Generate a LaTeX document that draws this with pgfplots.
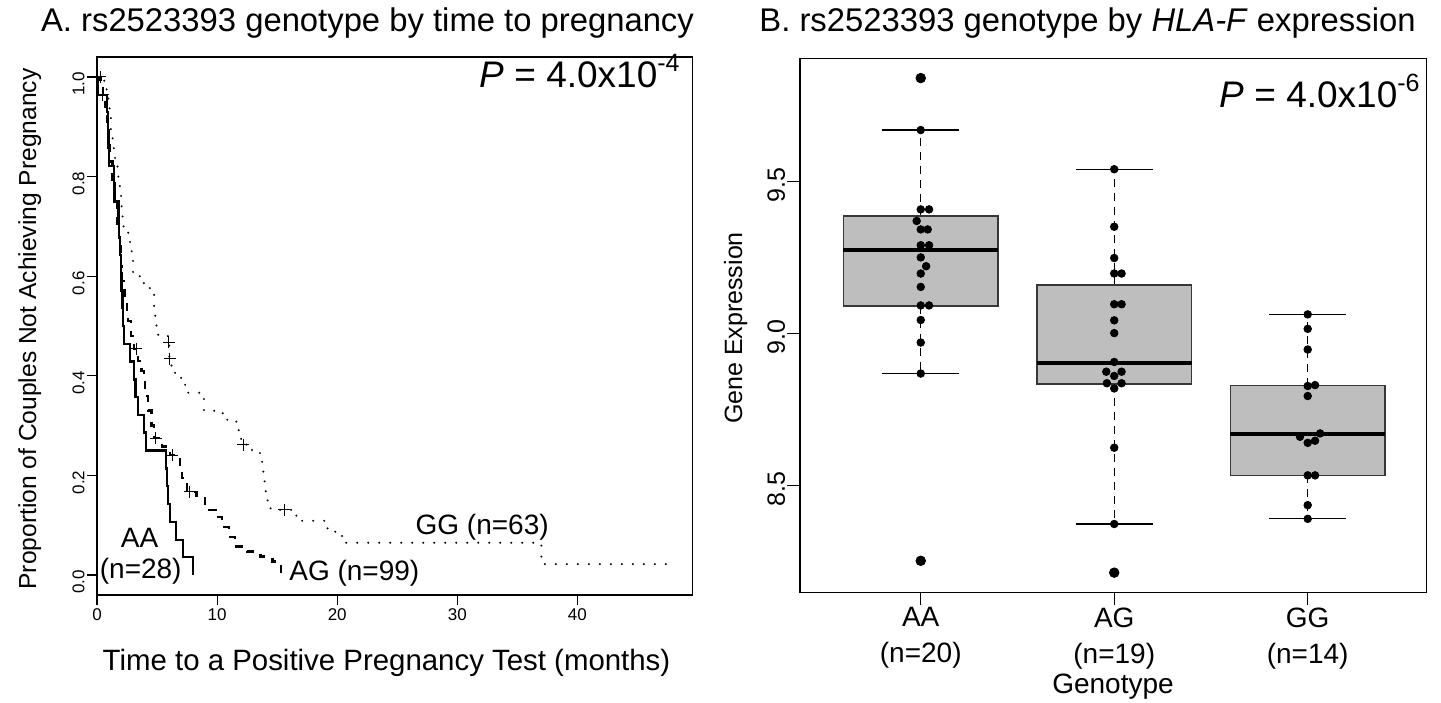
\documentclass[border=0pt]{standalone}
\usepackage{fontspec}
\setmainfont{Liberation Sans}
\usepackage{pgfplots}
\pgfplotsset{compat=1.18}
\definecolor{boxgray}{RGB}{190,190,190}
\definecolor{boxedge}{RGB}{55,55,55}
\newcommand{\fs}[1]{\fontsize{#1}{#1}\selectfont}
\begin{document}
\begin{tikzpicture}
% ---------------- Panel A ----------------
\begin{axis}[
  at={(48.5pt,-28.5pt)}, anchor=north west,
  scale only axis, width=297.85pt, height=269pt,
  xmin=0, xmax=49.6, ymin=-0.04, ymax=1.04,
  axis line style={line width=0.6pt},
  xtick={0,10,20,30,40}, xticklabels={0,10,20,30,40},
  ytick={0,0.2,0.4,0.6,0.8,1.0}, yticklabels={0.0,0.2,0.4,0.6,0.8,1.0},
  tick align=outside, major tick length=5pt,
  xtick pos=left, ytick pos=left,
  tick style={black, line width=0.6pt},
  yticklabel style={rotate=90, anchor=south, font=\fs{8.5}, inner sep=1pt, xshift=-3.5pt},
  xticklabel style={font=\fs{8.5}, inner sep=1.5pt},
]
% AA solid
\addplot[const plot, black, line width=1.2pt] coordinates {
(0,1) (0.05,0.964) (0.85,0.929) (0.9,0.893) (0.95,0.857) (1.0,0.821)
(1.42,0.786) (1.45,0.750) (1.78,0.714) (1.85,0.679) (1.92,0.643) (1.98,0.607)
(2.05,0.571) (2.12,0.536) (2.18,0.500) (2.25,0.464) (2.73,0.429) (3.08,0.393)
(3.2,0.357) (3.42,0.321) (3.92,0.286) (4.06,0.250) (5.73,0.214) (5.85,0.179)
(5.9,0.143) (6.06,0.107) (6.56,0.071) (7.17,0.036) (8.0,0.0)
};
% AG dashed
\addplot[const plot, black, line width=1.2pt, dash pattern=on 4pt off 4pt] coordinates {
(0,1) (0.3,0.98) (0.5,0.96) (0.7,0.94) (0.85,0.91) (1.0,0.87) (1.1,0.83)
(1.3,0.78) (1.5,0.75) (1.7,0.70) (1.85,0.66) (2.0,0.62) (2.1,0.59) (2.35,0.56)
(2.5,0.53) (2.6,0.51) (2.85,0.48) (3.1,0.454) (3.4,0.43) (3.7,0.41) (3.9,0.39)
(4.0,0.36) (4.25,0.33) (4.55,0.30) (4.75,0.275) (5.4,0.258) (6.1,0.241)
(6.9,0.222) (7.1,0.195) (7.5,0.167) (8.3,0.155) (9.0,0.131) (9.9,0.117)
(10.4,0.097) (11.0,0.077) (11.5,0.057) (12.5,0.047) (13.6,0.037) (14.6,0.027)
(15.3,0.0)
};
% GG dotted
\addplot[const plot, black, line width=1.1pt, line cap=round, dash pattern=on 0pt off 5.5pt] coordinates {
(0,1) (0.6,0.984) (0.8,0.968) (0.95,0.952) (1.05,0.921) (1.15,0.889) (1.3,0.857)
(1.5,0.825) (1.7,0.80) (1.9,0.78) (2.0,0.75) (2.05,0.72) (2.2,0.70) (2.4,0.69)
(2.6,0.67) (2.75,0.65) (2.9,0.635) (3.0,0.60) (3.9,0.58) (4.4,0.563) (4.75,0.54)
(4.85,0.517) (4.95,0.50) (5.1,0.482) (5.9,0.467) (6.02,0.434) (6.2,0.416)
(6.5,0.40) (7.0,0.382) (7.6,0.366) (8.9,0.33) (9.8,0.325) (10.8,0.312)
(11.6,0.296) (11.8,0.279) (12.0,0.262) (12.9,0.245) (13.6,0.228) (13.75,0.21)
(13.85,0.19) (13.95,0.17) (14.05,0.155) (14.2,0.141) (14.45,0.131) (16.6,0.109)
(19.2,0.087) (20.4,0.065) (37.0,0.022) (48.0,0.022)
};
% censor marks
\addplot[only marks, mark=+, mark size=3pt, black, mark options={line width=0.5pt}] coordinates {
(0.25,1.0) (5.98,0.467) (6.06,0.434) (12.17,0.262) (15.6,0.131)
(0.47,0.964)
(3.28,0.454) (4.9,0.275) (6.28,0.241) (7.73,0.167)
};
\node[anchor=base, font=\fs{14}] at (axis cs:3.55,0.056) {AA};
\node[anchor=base, font=\fs{14}] at (axis cs:3.64,-0.006) {(n=28)};
\node[anchor=base west, font=\fs{14}, inner sep=0pt] at (axis cs:15.98,-0.010) {AG (n=99)};
\node[anchor=base west, font=\fs{14}, inner sep=0pt] at (axis cs:26.5,0.082) {GG (n=63)};
\end{axis}
% ---------------- Panel B ----------------
\begin{axis}[
  at={(400pt,-29.15pt)}, anchor=north west,
  scale only axis, width=313.35pt, height=267.2pt,
  xmin=0.376, xmax=3.615, ymin=8.147, ymax=9.905,
  axis line style={line width=0.6pt},
  xtick={1,2,3}, xticklabels={AA\\[2pt](n=20),AG\\[2pt](n=19),GG\\[2pt](n=14)},
  ytick={8.5,9,9.5}, yticklabels={8.5,9.0,9.5},
  tick align=outside, major tick length=6.3pt,
  xtick pos=left, ytick pos=left,
  tick style={black, line width=0.6pt},
  yticklabel style={rotate=90, anchor=south, font=\fs{12.5}, inner sep=1pt, xshift=-2pt},
  xticklabel style={align=center, font=\fontsize{14}{16}\selectfont, inner sep=1pt},
  unbounded coords=jump,
]
% whiskers
\addplot[black, line width=0.6pt, dash pattern=on 4pt off 3pt] coordinates {
(1,9.386) (1,9.669) (1,nan) (1,9.091) (1,8.868) (1,nan)
(2,9.159) (2,9.540) (2,nan) (2,8.833) (2,8.373) (2,nan)
(3,8.828) (3,9.0625) (3,nan) (3,8.533) (3,8.390)
};
% boxes
\addplot[fill=boxgray, draw=boxedge, line width=0.8pt] coordinates {(0.6,9.091) (1.4,9.091) (1.4,9.386) (0.6,9.386)} -- cycle;
\addplot[fill=boxgray, draw=boxedge, line width=0.8pt] coordinates {(1.6,8.833) (2.4,8.833) (2.4,9.159) (1.6,9.159)} -- cycle;
\addplot[fill=boxgray, draw=boxedge, line width=0.8pt] coordinates {(2.6,8.533) (3.4,8.533) (3.4,8.828) (2.6,8.828)} -- cycle;
% medians
\addplot[black, line width=2pt] coordinates {(0.6,9.273) (1.4,9.273) (1.4,nan) (1.6,8.903) (2.4,8.903) (2.4,nan) (2.6,8.668) (3.4,8.668)};
% caps
\addplot[black, line width=0.6pt] coordinates {
(0.8,9.669) (1.2,9.669) (1.2,nan) (0.8,8.868) (1.2,8.868) (1.2,nan)
(1.8,9.540) (2.2,9.540) (2.2,nan) (1.8,8.373) (2.2,8.373) (2.2,nan)
(2.8,9.0625) (3.2,9.0625) (3.2,nan) (2.8,8.390) (3.2,8.390)
};
% outliers
\addplot[only marks, mark=*, mark size=2.4pt, black] coordinates {(1,9.84) (1,8.252) (2,8.213)};
% points
\addplot[only marks, mark=*, mark size=1.9pt, black] table {
x y
1 9.84
1 9.669
1 9.408
1.043 9.408
0.979 9.370
1 9.342
1.036 9.342
1 9.290
1.043 9.290
1 9.250
1.028 9.221
1 9.197
1 9.153
1 9.092
1.043 9.092
1 9.044
1 8.970
1 8.868
1 8.252
2 9.540
2 9.351
2 9.248
2 9.197
2.038 9.197
2 9.096
2.038 9.096
2 9.043
2 9.001
2 8.906
1.959 8.874
2.038 8.874
2 8.860
1.962 8.836
2.038 8.836
2 8.819
2 8.624
2 8.373
2 8.213
3 9.0625
3 9.015
3 8.947
3 8.827
3.038 8.830
3 8.794
2.96 8.660
3.064 8.671
3 8.640
3.038 8.647
3 8.533
3.038 8.533
3 8.435
3 8.390
};
\end{axis}
% ---------------- Text ----------------
\node[anchor=base, font=\fs{16.4}, inner sep=0pt] at (183.75pt,-15.5pt) {A. rs2523393 genotype by time to pregnancy};
\node[anchor=base, font=\fs{16.4}, inner sep=0pt] at (543.75pt,-15.5pt) {B. rs2523393 genotype by \textit{HLA-F} expression};
\node[anchor=base, font=\fs{14.7}, inner sep=0pt] at (193.25pt,-335pt) {Time to a Positive Pregnancy Test (months)};
\node[anchor=base, rotate=90, font=\fs{12.3}, inner sep=0pt] at (18pt,-164.5pt) {Proportion of Couples Not Achieving Pregnancy};
\node[anchor=base, font=\fs{14}, inner sep=0pt] at (556.5pt,-346.5pt) {Genotype};
\node[anchor=base, rotate=90, font=\fs{12.5}, inner sep=0pt] at (371pt,-164pt) {Gene Expression};
\node[anchor=base east, font=\fs{18.5}, inner sep=0pt] at (340pt,-43.5pt) {\textit{P} = 4.0x10\raisebox{0.42em}{\fs{12.5}-4}};
\node[anchor=base east, font=\fs{18.5}, inner sep=0pt] at (710pt,-53.5pt) {\textit{P} = 4.0x10\raisebox{0.42em}{\fs{12.5}-6}};
\pgfresetboundingbox
\useasboundingbox (0pt,0pt) rectangle (720.5pt,-351pt);
\end{tikzpicture}
\end{document}
